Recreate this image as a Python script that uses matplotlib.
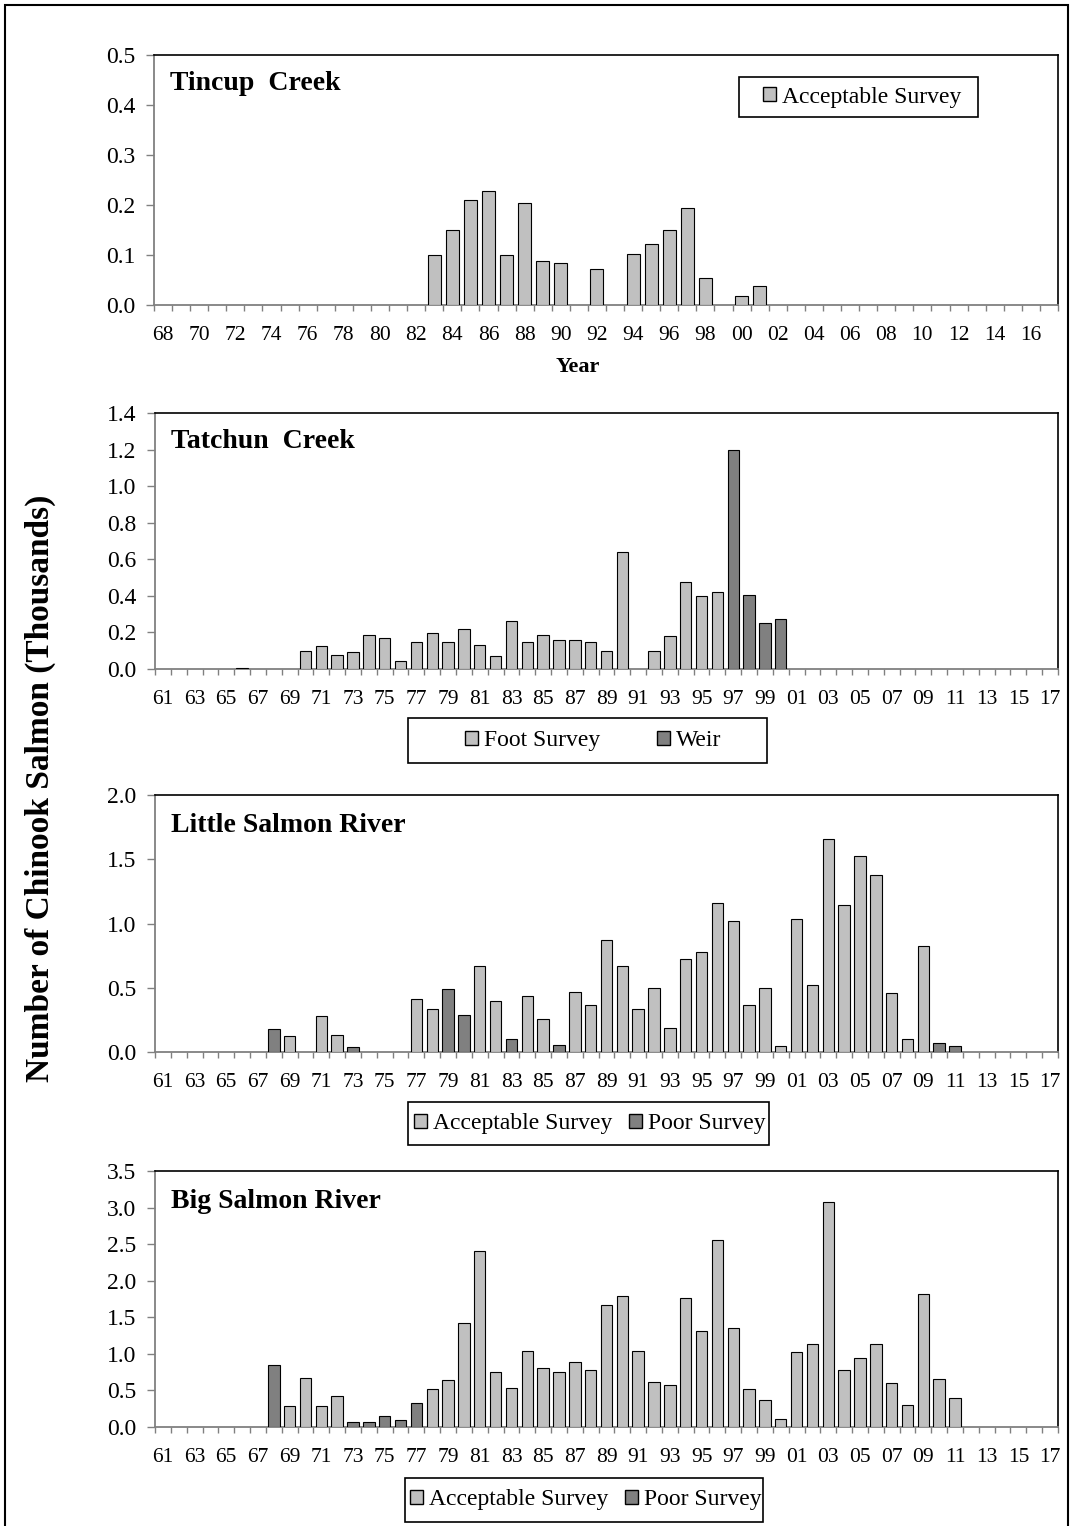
import matplotlib
matplotlib.use("Agg")
import matplotlib.pyplot as plt
from matplotlib.patches import Rectangle, Patch
from matplotlib.ticker import FixedLocator, FuncFormatter, MultipleLocator

plt.rcParams['font.family'] = ['Liberation Serif', 'DejaVu Serif']

# ---------------- data ----------------
tincup_years = list(range(1968, 2018))
tincup_vals = {1983: 0.100, 1984: 0.150, 1985: 0.210, 1986: 0.228, 1987: 0.100,
               1988: 0.205, 1989: 0.088, 1990: 0.085, 1992: 0.073, 1994: 0.102,
               1995: 0.122, 1996: 0.150, 1997: 0.194, 1998: 0.054, 2000: 0.019,
               2001: 0.039}

years_61 = list(range(1961, 2018))
tatchun_foot = {1966: 0.007, 1970: 0.100, 1971: 0.124, 1972: 0.077, 1973: 0.091,
                1974: 0.186, 1975: 0.172, 1976: 0.046, 1977: 0.148, 1978: 0.195,
                1979: 0.148, 1980: 0.218, 1981: 0.132, 1982: 0.069, 1983: 0.265,
                1984: 0.148, 1985: 0.186, 1986: 0.156, 1987: 0.156, 1988: 0.148,
                1989: 0.100, 1990: 0.638, 1992: 0.100, 1993: 0.180, 1994: 0.476,
                1995: 0.397, 1996: 0.421}
tatchun_weir = {1997: 1.200, 1998: 0.404, 1999: 0.249, 2000: 0.273}

little_acc = {1969: 0.122, 1971: 0.278, 1972: 0.132, 1977: 0.413, 1978: 0.335,
              1981: 0.667, 1982: 0.400, 1984: 0.434, 1985: 0.257, 1987: 0.468,
              1988: 0.366, 1989: 0.868, 1990: 0.667, 1991: 0.335, 1992: 0.501,
              1993: 0.190, 1994: 0.722, 1995: 0.779, 1996: 1.156, 1997: 1.021,
              1998: 0.366, 1999: 0.501, 2000: 0.047, 2001: 1.034, 2002: 0.522,
              2003: 1.655, 2004: 1.145, 2005: 1.522, 2006: 1.377, 2007: 0.457,
              2008: 0.101, 2009: 0.823}
little_poor = {1968: 0.179, 1973: 0.036, 1979: 0.488, 1980: 0.288, 1983: 0.101,
               1986: 0.057, 2010: 0.068, 2011: 0.047}

big_acc = {1969: 0.286, 1970: 0.673, 1971: 0.286, 1972: 0.418, 1978: 0.518,
           1979: 0.636, 1980: 1.427, 1981: 2.405, 1982: 0.750, 1983: 0.536,
           1984: 1.041, 1985: 0.809, 1986: 0.750, 1987: 0.886, 1988: 0.773,
           1989: 1.664, 1990: 1.795, 1991: 1.041, 1992: 0.614, 1993: 0.573,
           1994: 1.759, 1995: 1.314, 1996: 2.559, 1997: 1.350, 1998: 0.518,
           1999: 0.364, 2000: 0.109, 2001: 1.023, 2002: 1.141, 2003: 3.077,
           2004: 0.773, 2005: 0.945, 2006: 1.141, 2007: 0.595, 2008: 0.305,
           2009: 1.818, 2010: 0.655, 2011: 0.400}
big_poor = {1968: 0.845, 1973: 0.068, 1974: 0.068, 1975: 0.145, 1976: 0.091,
            1977: 0.323}

LIGHT = '#C0C0C0'
DARK = '#808080'

W, H = 1073, 1526
fig = plt.figure(figsize=(W / 100, H / 100), dpi=100)


def rect(l, t, r, b):
    return [l / W, 1 - b / H, (r - l) / W, (b - t) / H]


def draw_panel(pos, years, series, ymax, ystep, title, title_y):
    ax = fig.add_axes(rect(*pos))
    n = len(years)
    idx = list(range(n))
    for data, color in series:
        xs = [i for i, y in zip(idx, years) if y in data]
        hs = [data[y] for y in years if y in data]
        ax.bar(xs, hs, width=0.72, color=color, edgecolor='black', linewidth=0.8,
               zorder=3)
    ax.set_xlim(-0.5, n - 0.5)
    ax.set_ylim(0, ymax)
    ax.yaxis.set_major_locator(MultipleLocator(ystep))
    ax.yaxis.set_major_formatter(FuncFormatter(lambda v, p: f"{v:.1f}"))
    ax.xaxis.set_major_locator(FixedLocator(idx[::2]))
    ax.set_xticklabels([f"{y % 100:02d}" for y in years[::2]])
    ax.xaxis.set_minor_locator(FixedLocator([i - 0.5 for i in range(n + 1)]))
    ax.tick_params(axis='x', which='major', length=0, labelsize=15.5, pad=15)
    ax.tick_params(axis='x', which='minor', length=4, color='#808080', width=1,
                   direction='out')
    ax.tick_params(axis='y', which='major', length=5.5, color='#808080', width=1,
                   labelsize=17, direction='out', pad=8)
    for s in ('top', 'right'):
        ax.spines[s].set_color('black')
        ax.spines[s].set_linewidth(1.2)
    for s in ('left', 'bottom'):
        ax.spines[s].set_color('#808080')
        ax.spines[s].set_linewidth(1.3)
    ax.text(0.018, title_y, title, transform=ax.transAxes, fontsize=20,
            fontweight='bold', va='center', ha='left')
    return ax


def add_legend(ax, handles, labels, cx, cy, colsp, box):
    leg = ax.legend(handles, labels, loc='center', ncol=len(labels),
                    bbox_to_anchor=(cx / W, 1 - cy / H),
                    bbox_transform=fig.transFigure, frameon=False,
                    fontsize=17, handlelength=0.55, handleheight=0.55,
                    handletextpad=0.25, columnspacing=colsp, borderpad=0.2)
    l, t, r, b = box
    fig.patches.append(Rectangle((l / W, 1 - b / H), (r - l) / W, (b - t) / H,
                                 transform=fig.transFigure, fill=False,
                                 edgecolor='black', linewidth=1.2))
    return leg


# Panel 1
ax1 = draw_panel((154, 55, 1058, 305), tincup_years, [(tincup_vals, LIGHT)],
                 0.5, 0.1, 'Tincup  Creek', 0.888)
fig.text(578 / W, 1 - 367 / H, 'Year', fontsize=16, fontweight='bold',
         ha='center', va='center')
add_legend(ax1, [Patch(facecolor=LIGHT, edgecolor='black')],
           ['Acceptable Survey'], 862, 97, 1.0, (739, 77, 978, 117))

# Panel 2
ax2 = draw_panel((155, 413, 1058, 669), years_61,
                 [(tatchun_foot, LIGHT), (tatchun_weir, DARK)],
                 1.4, 0.2, 'Tatchun  Creek', 0.887)
add_legend(ax2, [Patch(facecolor=LIGHT, edgecolor='black'),
                 Patch(facecolor=DARK, edgecolor='black')],
           ['Foot Survey', 'Weir'], 593, 741, 2.4, (408, 718, 767, 763))

# Panel 3
ax3 = draw_panel((155, 795, 1058, 1052), years_61,
                 [(little_acc, LIGHT), (little_poor, DARK)],
                 2.0, 0.5, 'Little Salmon River', 0.883)
add_legend(ax3, [Patch(facecolor=LIGHT, edgecolor='black'),
                 Patch(facecolor=DARK, edgecolor='black')],
           ['Acceptable Survey', 'Poor Survey'], 590, 1124, 0.7,
           (408, 1102, 769, 1145))

# Panel 4
ax4 = draw_panel((155, 1171, 1058, 1427), years_61,
                 [(big_acc, LIGHT), (big_poor, DARK)],
                 3.5, 0.5, 'Big Salmon River', 0.88)
add_legend(ax4, [Patch(facecolor=LIGHT, edgecolor='black'),
                 Patch(facecolor=DARK, edgecolor='black')],
           ['Acceptable Survey', 'Poor Survey'], 586, 1500, 0.7,
           (405, 1478, 763, 1522))

fig.text(40 / W, 1 - 788 / H, 'Number of Chinook Salmon (Thousands)',
         rotation=90, fontsize=24, fontweight='bold', ha='center', va='center')

fig.patches.append(Rectangle((5 / W, -0.01), 1063 / W, 1 - 5 / H + 0.01,
                             transform=fig.transFigure, fill=False,
                             edgecolor='black', linewidth=1.5))

fig.savefig('out.png', dpi=100)
